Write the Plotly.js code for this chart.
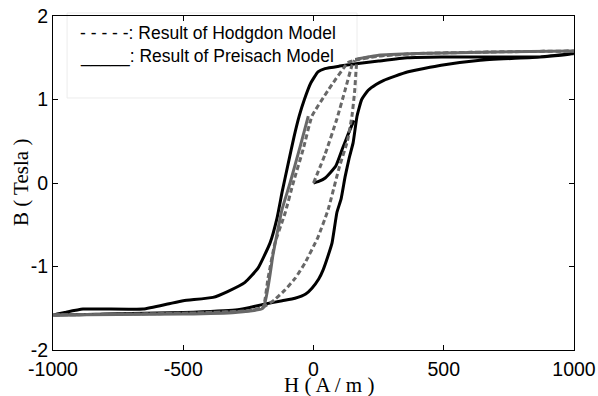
<!DOCTYPE html>
<html>
<head>
<meta charset="utf-8">
<script src="https://cdn.plot.ly/plotly-3.0.1.min.js"></script>
<style>html,body{margin:0;padding:0;background:#fff}#chart{width:598px;height:396px}</style>
</head>
<body>
<div id="chart"></div>
<script>
// Measured / Preisach loop (black solid): descending and ascending branches
var blackDescH = [1000, 950, 870, 700, 490, 360, 250, 171, 100, 44, 17, -10, -35, -55, -75, -98, -120, -140, -167, -213, -263, -330, -386, -500, -560, -654, -885, -954, -1000];
var blackDescB = [1.55, 1.53, 1.51, 1.51, 1.51, 1.50, 1.46, 1.43, 1.40, 1.37, 1.33, 1.20, 1.00, 0.80, 0.55, 0.22, -0.10, -0.42, -0.72, -1.02, -1.19, -1.30, -1.37, -1.41, -1.45, -1.51, -1.51, -1.55, -1.58];
var blackAscH = [-1000, -800, -500, -300, -244, -186, -120, -71, -30, -6, 20, 37, 55, 71, 90, 106, 121, 137, 152, 167, 185, 210, 240, 270, 360, 490, 640, 870, 1000];
var blackAscB = [-1.58, -1.57, -1.55, -1.52, -1.49, -1.45, -1.41, -1.38, -1.33, -1.26, -1.15, -1.04, -0.88, -0.72, -0.35, -0.19, 0.07, 0.30, 0.48, 0.80, 1.00, 1.11, 1.18, 1.23, 1.33, 1.41, 1.47, 1.51, 1.55];
// Black initial magnetization curve
var blackInitH = [0, 20, 45, 85, 112, 135, 155];
var blackInitB = [0, 0.02, 0.06, 0.20, 0.42, 0.60, 0.75];

// Hodgdon model (gray dashed)
var hodDescH = [1000, 700, 400, 250, 160, 132, 56, -6, -40, -78, -109, -148, -175, -194, -250, -500, -1000];
var hodDescB = [1.58, 1.57, 1.55, 1.52, 1.47, 1.44, 1.11, 0.80, 0.40, 0.00, -0.36, -0.72, -1.15, -1.49, -1.53, -1.56, -1.58];
var hodAscH = [-1000, -500, -250, -194, -150, -109, -70, -33, 17, 56, 100, 130, 148, 158, 165, 170, 250, 400, 700, 1000];
var hodAscB = [-1.58, -1.56, -1.53, -1.49, -1.40, -1.28, -1.14, -0.96, -0.65, -0.32, 0.20, 0.50, 0.81, 1.10, 1.41, 1.48, 1.52, 1.55, 1.57, 1.58];
var hodInitH = [0, 44, 90, 121, 148, 158];
var hodInitB = [0, 0.34, 0.77, 1.11, 1.41, 1.47];

// Preisach model (gray solid) pieces
var presLowH = [-1000, -500, -300, -194, -155, -121, -90, -50, -20];
var presLowB = [-1.58, -1.57, -1.55, -1.50, -0.85, -0.32, 0.00, 0.45, 0.80];
var presTopH = [160, 250, 400, 700, 1000];
var presTopB = [1.48, 1.53, 1.55, 1.57, 1.58];

var xTicks = [-1000, -500, 0, 500, 1000];
var yTicks = [-2, -1, 0, 1, 2];
var legendLines = ["- - - - -: Result of Hodgdon Model", "_____: Result of Preisach Model"];
var xTitle = "H ( A / m )";
var yTitle = "B ( Tesla )";

var GRAY = '#686868';
function line(x, y, color, dash) {
  return {x: x, y: y, type: 'scatter', mode: 'lines', hoverinfo: 'skip', showlegend: false,
    line: {color: color, width: 3, dash: dash || 'solid', shape: 'spline', smoothing: 0.4}};
}
var traces = [
  line(blackDescH.concat(blackAscH.slice(1)), blackDescB.concat(blackAscB.slice(1)), '#000000'),
  line(blackInitH, blackInitB, '#000000'),
  line(presLowH, presLowB, GRAY),
  line(presTopH, presTopB, GRAY),
  line(hodDescH.concat(hodAscH.slice(1)), hodDescB.concat(hodAscB.slice(1)), GRAY, '5px,3px'),
  line(hodInitH, hodInitB, GRAY, '5px,3px')
];

var sans = 'Liberation Sans, Arial, sans-serif';
var serif = 'Liberation Serif, Times New Roman, serif';
var axisBase = {showgrid: false, zeroline: false, showline: true, linecolor: '#000', linewidth: 1,
  mirror: 'ticks', ticks: 'inside', ticklen: 5, tickcolor: '#000', tickwidth: 1,
  tickfont: {family: sans, size: 19.5, color: '#000'}, fixedrange: true};

var layout = {
  width: 598, height: 396,
  margin: {l: 53, r: 24, t: 16, b: 46, pad: 0},
  paper_bgcolor: '#fff', plot_bgcolor: '#fff',
  showlegend: false,
  xaxis: Object.assign({}, axisBase, {range: [-1000, 1000], tickmode: 'array', tickvals: xTicks, ticktext: xTicks.map(String), ticklabelstandoff: 2}),
  yaxis: Object.assign({}, axisBase, {range: [-2, 2], tickmode: 'array', tickvals: yTicks, ticktext: yTicks.map(String)}),
  shapes: [{type: 'rect', xref: 'paper', yref: 'paper', x0: 0.027, x1: 0.5835, y0: 0.7545, y1: 1.009,
    line: {color: '#ececec', width: 1}, fillcolor: 'rgba(0,0,0,0)', layer: 'below'}],
  annotations: [
    {text: legendLines[0], xref: 'paper', yref: 'paper', x: 0.048, y: 0.949, xanchor: 'left', yanchor: 'middle', showarrow: false, font: {family: sans, size: 17.5, color: '#000'}},
    {text: legendLines[1], xref: 'paper', yref: 'paper', x: 0.048, y: 0.880, xanchor: 'left', yanchor: 'middle', showarrow: false, font: {family: sans, size: 17.5, color: '#000'}},
    {text: xTitle, xref: 'paper', yref: 'paper', x: (329 - 53) / 521, y: -(385 - 350) / 334, xanchor: 'center', yanchor: 'middle', showarrow: false, font: {family: serif, size: 21, color: '#000'}},
    {text: yTitle, xref: 'paper', yref: 'paper', x: -(53 - 21) / 521, y: 0.5, xanchor: 'center', yanchor: 'middle', textangle: -90, showarrow: false, font: {family: serif, size: 21, color: '#000'}}
  ]
};
Plotly.newPlot('chart', traces, layout, {staticPlot: true, displayModeBar: false});
</script>
</body>
</html>
